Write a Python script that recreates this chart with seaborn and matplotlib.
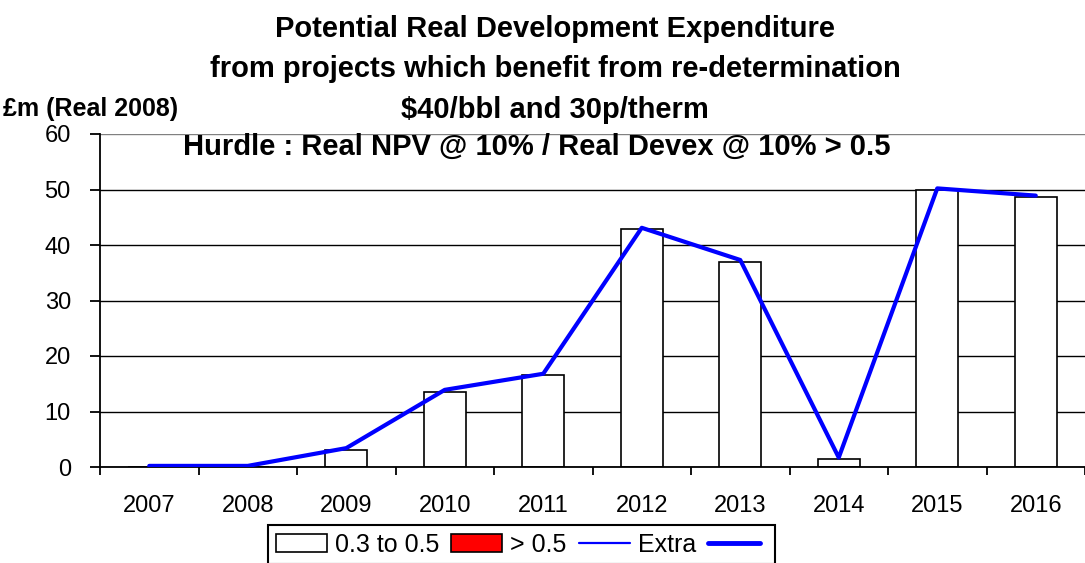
import numpy as np
import matplotlib
matplotlib.use("Agg")
import matplotlib.pyplot as plt
from matplotlib.patches import Patch
from matplotlib.lines import Line2D
import seaborn as sns

years = ['2007', '2008', '2009', '2010', '2011', '2012', '2013', '2014', '2015', '2016']
band_03_05 = [0, 0, 3.1, 13.6, 16.5, 42.8, 37.0, 1.4, 50.0, 48.7]
extra = [0.2, 0.2, 3.4, 13.9, 16.8, 43.1, 37.3, 1.7, 50.2, 48.9]
yticks = [0, 10, 20, 30, 40, 50, 60]

sns.set_style('white')
plt.rcParams['font.family'] = ['Liberation Sans', 'DejaVu Sans']
plt.rcParams['text.color'] = 'black'
plt.rcParams['xtick.color'] = 'black'
plt.rcParams['ytick.color'] = 'black'
plt.rcParams['axes.labelcolor'] = 'black'

W, H = 1085, 563
fig = plt.figure(figsize=(W / 100, H / 100), dpi=100)
ax = fig.add_axes([100 / W, 1 - 467 / H, 985 / W, (467 - 134) / H])

sns.barplot(x=years, y=band_03_05, color='white', saturation=1,
            edgecolor='black', linewidth=1.2, width=0.43, ax=ax, zorder=2)
sns.lineplot(x=np.arange(len(years)), y=extra, color='blue', lw=3, ax=ax, zorder=3)

ax.set_ylim(0, 60)
ax.set_xlim(-0.5, len(years) - 0.5)
ax.set_yticks(yticks)
ax.set_yticklabels([str(v) for v in yticks], fontsize=17)
ax.set_xticks(np.arange(len(years)))
ax.set_xticklabels(years, fontsize=17)
ax.set_xticks(np.arange(-0.5, len(years)), minor=True)
ax.tick_params(axis='x', which='major', length=0, pad=20, labelcolor='black')
ax.tick_params(axis='x', which='minor', length=6, width=1.3, color='black', bottom=True)
ax.tick_params(axis='y', length=7, width=1.3, color='black', pad=14, left=True, labelcolor='black')
ax.set_axisbelow(True)
ax.yaxis.grid(True, color='black', lw=1.0)
ax.xaxis.grid(False)
ax.get_ygridlines()[-1].set_color('#808080')
for s in ['top', 'right']:
    ax.spines[s].set_visible(False)
for s in ['left', 'bottom']:
    ax.spines[s].set_color('black')
    ax.spines[s].set_linewidth(1.3)
ax.set_xlabel('')
ax.set_ylabel('')

cx = 555 / W
fig.text(cx, 1 - 37 / H, 'Potential Real Development Expenditure', ha='center', va='baseline',
         fontsize=21, fontweight='bold')
fig.text(cx, 1 - 77 / H, 'from projects which benefit from re-determination', ha='center', va='baseline',
         fontsize=21, fontweight='bold')
fig.text(cx, 1 - 118 / H, '$40/bbl and 30p/therm', ha='center', va='baseline',
         fontsize=21, fontweight='bold')
fig.text(3 / W, 1 - 116 / H, '£m (Real 2008)', ha='left', va='baseline',
         fontsize=18, fontweight='bold')
fig.text(183 / W, 1 - 155 / H, 'Hurdle : Real NPV @ 10% / Real Devex @ 10% > 0.5', ha='left', va='baseline',
         fontsize=21, fontweight='bold')

handles = [Patch(facecolor='white', edgecolor='black', lw=1.2),
           Patch(facecolor='red', edgecolor='black', lw=1.2),
           Line2D([], [], color='blue', lw=1.6),
           Line2D([], [], color='blue', lw=3.5)]
labels = ['0.3 to 0.5', '> 0.5', 'Extra', '']
leg = fig.legend(handles, labels, loc='upper left', bbox_to_anchor=(268 / W, 1 - 525 / H),
                 ncol=4, frameon=True, fancybox=False, edgecolor='black', fontsize=18,
                 handlelength=2.05, handletextpad=0.32, columnspacing=0.48,
                 borderaxespad=0, borderpad=0.3, labelcolor='black')
leg.get_frame().set_linewidth(1.5)
leg.get_frame().set_alpha(1)

fig.savefig('out.png', dpi=100)
